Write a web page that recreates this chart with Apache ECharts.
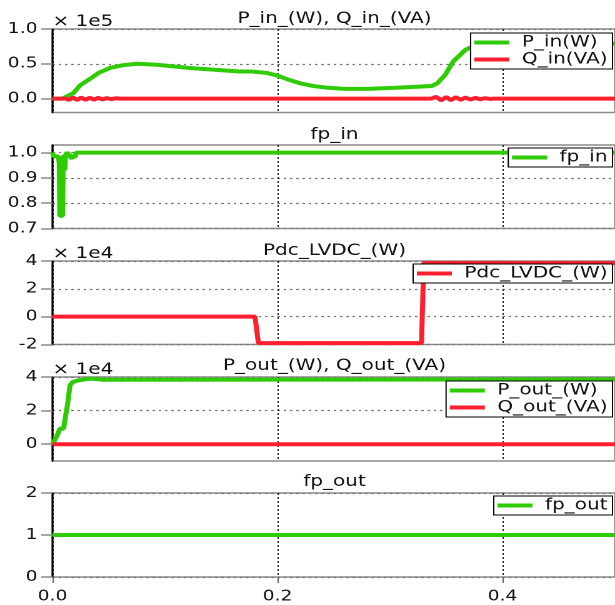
<!DOCTYPE html>
<html>
<head>
<meta charset="utf-8">
<script src="https://cdn.jsdelivr.net/npm/echarts@6/dist/echarts.min.js"></script>
<style>
html, body { margin: 0; padding: 0; background: #fff; overflow: hidden; }
/* the reference plot is stretched sideways, so draw narrow and widen it */
#main { width: 492px; height: 605px; transform: scaleX(1.25); transform-origin: 0 0; }
</style>
</head>
<body>
<div id="main"></div>
<script>
// time axis (s)
var xTicks = [0, 0.2, 0.4];

// panel 1 : P_in (x 1e5), Q_in (x 1e5)
var pInT = [0, 0.009, 0.0186, 0.0245, 0.033, 0.041, 0.051, 0.0626, 0.075, 0.0926, 0.122, 0.166, 0.176, 0.19, 0.2, 0.21, 0.22, 0.232, 0.245, 0.26, 0.28, 0.31, 0.337, 0.342, 0.349, 0.356, 0.367, 0.375, 0.382, 0.39, 0.5];
var pInV = [0, 0, 0.08, 0.19, 0.28, 0.37, 0.44, 0.48, 0.50, 0.486, 0.44, 0.39, 0.39, 0.37, 0.33, 0.27, 0.22, 0.18, 0.155, 0.14, 0.14, 0.16, 0.18, 0.22, 0.34, 0.53, 0.70, 0.76, 0.79, 0.79, 0.79];
var qInT = [0, 0.012, 0.0145, 0.018, 0.022, 0.0255, 0.0295, 0.033, 0.037, 0.0405, 0.0445, 0.048, 0.052, 0.056, 0.06, 0.337, 0.341, 0.3455, 0.35, 0.354, 0.3585, 0.363, 0.367, 0.3715, 0.376, 0.38, 0.3845, 0.389, 0.393, 0.5];
var qInV = [0, 0, -0.02, 0.015, -0.02, 0.015, -0.018, 0.012, -0.015, 0.01, -0.012, 0.008, -0.008, 0.004, 0, 0, 0.025, -0.025, 0.022, -0.022, 0.018, -0.018, 0.014, -0.014, 0.01, -0.01, 0.006, -0.005, 0, 0];

// panel 2 : fp_in
var fpInT = [0, 0.001, 0.005, 0.006, 0.0065, 0.009, 0.0095, 0.0105, 0.011, 0.0115, 0.013, 0.015, 0.017, 0.018, 0.02, 0.021, 0.024, 0.5];
var fpInV = [1.0, 0.985, 0.985, 0.96, 0.75, 0.75, 0.99, 0.99, 0.93, 0.99, 1.0, 0.99, 0.975, 0.99, 0.98, 1.0, 1.0, 1.0];

// panel 3 : Pdc_LVDC (x 1e4)
var pdcT = [0, 0.18, 0.183, 0.328, 0.330, 0.5];
var pdcV = [0, 0, -1.9, -1.9, 3.85, 3.85];

// panel 4 : P_out, Q_out (x 1e4)
var pOutT = [0, 0.0006, 0.0042, 0.0065, 0.0099, 0.011, 0.0135, 0.0155, 0.0179, 0.023, 0.0334, 0.044, 0.5];
var pOutV = [0, 0, 0.53, 0.93, 0.93, 1.43, 2.42, 3.5, 3.7, 3.8, 3.9, 3.84, 3.85];
var qOutT = [0, 0.5];
var qOutV = [0, 0];

// panel 5 : fp_out
var fpOutT = [0, 0.5];
var fpOutV = [1, 1];

// y ticks per panel
var yTicks1 = [0, 0.5, 1.0];
var yTicks2 = [0.7, 0.8, 0.9, 1.0];
var yTicks3 = [-2, 0, 2, 4];
var yTicks4 = [0, 2, 4];
var yTicks5 = [0, 1, 2];

var GREEN = '#2fcc05';
var RED = '#ff1f2e';
var FONT = '"DejaVu Sans", Verdana, sans-serif';

function pairs(t, v) {
	var out = [];
	for (var i = 0; i < t.length; i++) {
		out.push([t[i], v[i]]);
	}
	return out;
}

var panels = [
	{top: 29, height: 83.5, min: -0.2, max: 1.0, ticks: yTicks1, dec: 1, unit: '× 1e5', title: 'P_in_(W), Q_in_(VA)', titleY: 19},
	{top: 145, height: 83.5, min: 0.7, max: 1.03, ticks: yTicks2, dec: 1, unit: '', title: 'fp_in', titleY: 135},
	{top: 261, height: 83.5, min: -2, max: 4, ticks: yTicks3, dec: 0, unit: '× 1e4', title: 'Pdc_LVDC_(W)', titleY: 251},
	{top: 377, height: 84, min: -1, max: 4, ticks: yTicks4, dec: 0, unit: '× 1e4', title: 'P_out_(W), Q_out_(VA)', titleY: 366},
	{top: 493, height: 84, min: 0, max: 2, ticks: yTicks5, dec: 0, unit: '', title: 'fp_out', titleY: 482}
];

var grids = [], xAxes = [], yAxes = [], titles = [];
panels.forEach(function (p, i) {
	var last = i === panels.length - 1;
	grids.push({
		left: 42, width: 452, top: p.top, height: p.height,
		show: true, borderColor: '#8a8a8a', borderWidth: 1.5, backgroundColor: 'transparent'
	});
	xAxes.push({
		type: 'value', gridIndex: i, min: 0, max: 0.5,
		axisLine: {show: false},
		axisTick: {show: last, customValues: xTicks, length: 6, lineStyle: {color: '#666'}},
		axisLabel: {
			show: last, customValues: xTicks, margin: 12,
			fontSize: 15, fontFamily: FONT, color: '#111',
			formatter: function (v) { return v.toFixed(1); }
		},
		splitLine: {show: true, lineStyle: {color: '#222', type: [2, 2], width: 1}}
	});
	yAxes.push({
		type: 'value', gridIndex: i, min: p.min, max: p.max,
		name: p.unit, nameLocation: 'end', nameGap: 7,
		nameTextStyle: {align: 'left', verticalAlign: 'middle', fontSize: 16, fontFamily: FONT, color: '#111'},
		axisLine: {show: true, lineStyle: {color: '#000', width: 1.5}},
		axisTick: {show: true, customValues: p.ticks, length: 9, lineStyle: {color: '#888', width: 1.5}},
		axisLabel: {
			customValues: p.ticks, margin: 12,
			fontSize: 15, fontFamily: FONT, color: '#111',
			formatter: (function (d) { return function (v) { return v.toFixed(d); }; })(p.dec)
		},
		splitLine: {show: true, lineStyle: {color: '#777', type: [2, 3], width: 1.2}}
	});
	titles.push({
		type: 'text', x: 267.6, y: p.titleY,
		style: {text: p.title, align: 'center', verticalAlign: 'middle', fontSize: 16, fontFamily: FONT, fill: '#111'}
	});
});

function line(name, color, idx, data) {
	return {
		name: name, type: 'line', xAxisIndex: idx, yAxisIndex: idx,
		data: data, showSymbol: false, symbol: 'none',
		lineStyle: {color: color, width: 4}, itemStyle: {color: color}
	};
}

function legend(names, top) {
	return {
		data: names, orient: 'vertical', right: 2, top: top,
		icon: 'rect', itemWidth: 28, itemHeight: 4, itemGap: 0,
		padding: [1, 4, 1, 3],
		backgroundColor: '#fff', borderColor: '#000', borderWidth: 1, borderRadius: 0,
		selectedMode: false,
		textStyle: {fontSize: 16, fontFamily: FONT, color: '#111', lineHeight: 17, padding: [0, 0, 0, 5]}
	};
}

var myChart = echarts.init(document.getElementById('main'), null, {devicePixelRatio: 2});

option = {
	animation: false,
	grid: grids,
	xAxis: xAxes,
	yAxis: yAxes,
	graphic: titles,
	legend: [
		legend(['P_in(W)', 'Q_in(VA)'], 33),
		legend(['fp_in'], 148),
		legend(['Pdc_LVDC_(W)'], 264),
		legend(['P_out_(W)', 'Q_out_(VA)'], 381),
		legend(['fp_out'], 496)
	],
	series: [
		line('P_in(W)', GREEN, 0, pairs(pInT, pInV)),
		line('Q_in(VA)', RED, 0, pairs(qInT, qInV)),
		line('fp_in', GREEN, 1, pairs(fpInT, fpInV)),
		line('Pdc_LVDC_(W)', RED, 2, pairs(pdcT, pdcV)),
		line('P_out_(W)', GREEN, 3, pairs(pOutT, pOutV)),
		line('Q_out_(VA)', RED, 3, pairs(qOutT, qOutV)),
		line('fp_out', GREEN, 4, pairs(fpOutT, fpOutV))
	]
};

myChart.setOption(option);
</script>
</body>
</html>
